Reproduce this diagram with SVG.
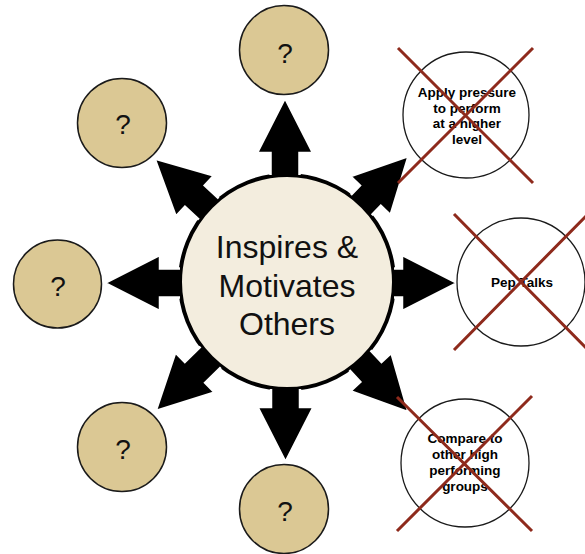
<svg xmlns="http://www.w3.org/2000/svg" width="585" height="554" viewBox="0 0 585 554">
<style>
.q{fill:#DBC894;stroke:#1a1a1a;stroke-width:1.5}
.qt{font-family:"Liberation Sans",Arial,sans-serif;font-size:28px;fill:#111;text-anchor:middle}
.w{fill:#fff;stroke:#1a1a1a;stroke-width:1.3}
.wt{font-family:"Liberation Sans",Arial,sans-serif;font-size:13.5px;font-weight:bold;fill:#000;text-anchor:middle}
.x{stroke:#8E2A1C;stroke-width:3;fill:none}
.af{fill:#000}
.as{fill:none;stroke:#fff;stroke-width:2.5;stroke-linejoin:miter}
.ct{font-family:"Liberation Sans",Arial,sans-serif;font-size:32px;fill:#111;text-anchor:middle}
</style>
<rect width="585" height="554" fill="#fff"/>
<g id="node-center">
<circle cx="287" cy="282" r="107" fill="#F3EDDE" stroke="#000" stroke-width="4"/>
<text class="ct" x="287" y="258">Inspires &amp;</text>
<text class="ct" x="287" y="297">Motivates</text>
<text class="ct" x="287" y="335">Others</text>
</g>
<g id="connectors">
<g transform="translate(285,282) rotate(0)"><path class="af" d="M-14.5,-107 L-14.5,-129 L-28,-129 L0,-184 L28,-129 L14.5,-129 L14.5,-107 Z"/><path class="as" d="M-14.5,-107 L-14.5,-129 L-28,-129 L0,-184 L28,-129 L14.5,-129 L14.5,-107"/></g>
<g transform="translate(287,282) rotate(44)"><path class="af" d="M-14.5,-107 L-14.5,-120 L-28,-120 L0,-175 L28,-120 L14.5,-120 L14.5,-107 Z"/><path class="as" d="M-14.5,-107 L-14.5,-120 L-28,-120 L0,-175 L28,-120 L14.5,-120 L14.5,-107"/></g>
<g transform="translate(287,283) rotate(90)"><path class="af" d="M-14.5,-107 L-14.5,-115 L-28,-115 L0,-170 L28,-115 L14.5,-115 L14.5,-107 Z"/><path class="as" d="M-14.5,-107 L-14.5,-115 L-28,-115 L0,-170 L28,-115 L14.5,-115 L14.5,-107"/></g>
<g transform="translate(287,282) rotate(137)"><path class="af" d="M-14.5,-107 L-14.5,-123 L-28,-123 L0,-178 L28,-123 L14.5,-123 L14.5,-107 Z"/><path class="as" d="M-14.5,-107 L-14.5,-123 L-28,-123 L0,-178 L28,-123 L14.5,-123 L14.5,-107"/></g>
<g transform="translate(285.5,282) rotate(180)"><path class="af" d="M-14.5,-107 L-14.5,-125 L-28,-125 L0,-180 L28,-125 L14.5,-125 L14.5,-107 Z"/><path class="as" d="M-14.5,-107 L-14.5,-125 L-28,-125 L0,-180 L28,-125 L14.5,-125 L14.5,-107"/></g>
<g transform="translate(287,282) rotate(225.5)"><path class="af" d="M-14.5,-107 L-14.5,-129 L-28,-129 L0,-184 L28,-129 L14.5,-129 L14.5,-107 Z"/><path class="as" d="M-14.5,-107 L-14.5,-129 L-28,-129 L0,-184 L28,-129 L14.5,-129 L14.5,-107"/></g>
<g transform="translate(287,283) rotate(270)"><path class="af" d="M-14.5,-107 L-14.5,-127 L-28,-127 L0,-182 L28,-127 L14.5,-127 L14.5,-107 Z"/><path class="as" d="M-14.5,-107 L-14.5,-127 L-28,-127 L0,-182 L28,-127 L14.5,-127 L14.5,-107"/></g>
<g transform="translate(287,282) rotate(313)"><path class="af" d="M-14.5,-107 L-14.5,-126 L-28,-126 L0,-181 L28,-126 L14.5,-126 L14.5,-107 Z"/><path class="as" d="M-14.5,-107 L-14.5,-126 L-28,-126 L0,-181 L28,-126 L14.5,-126 L14.5,-107"/></g>
</g>
<g id="node-top"><circle class="q" cx="284" cy="50" r="44.5"/><text class="qt" x="285" y="63">?</text></g>
<g id="node-top-left"><circle class="q" cx="122" cy="123" r="44.5"/><text class="qt" x="123" y="134">?</text></g>
<g id="node-left"><circle class="q" cx="57.5" cy="284" r="44"/><text class="qt" x="58" y="296">?</text></g>
<g id="node-bottom-left"><circle class="q" cx="122" cy="447" r="44.5"/><text class="qt" x="123" y="459">?</text></g>
<g id="node-bottom"><circle class="q" cx="284" cy="509" r="44.5"/><text class="qt" x="285" y="521">?</text></g>
<g id="node-apply">
<circle class="w" cx="466" cy="115" r="63"/>
<text class="wt" x="467" y="97">Apply pressure</text>
<text class="wt" x="467" y="113">to perform</text>
<text class="wt" x="467" y="128">at a higher</text>
<text class="wt" x="467" y="144">level</text>
<path class="x" d="M398,48 L533,183 M533,48 L398,183"/>
</g>
<g id="node-pep">
<circle class="w" cx="521" cy="282" r="64"/>
<text class="wt" x="522" y="287">Pep Talks</text>
<path class="x" d="M454,214 L588,350 M454,350 L588,214"/>
</g>
<g id="node-compare">
<circle class="w" cx="465" cy="463" r="64"/>
<text class="wt" x="465" y="443">Compare to</text>
<text class="wt" x="465" y="459">other high</text>
<text class="wt" x="465" y="475">performing</text>
<text class="wt" x="465" y="491">groups</text>
<path class="x" d="M397,397 L532,531 M532,396 L397,531"/>
</g>
</svg>
